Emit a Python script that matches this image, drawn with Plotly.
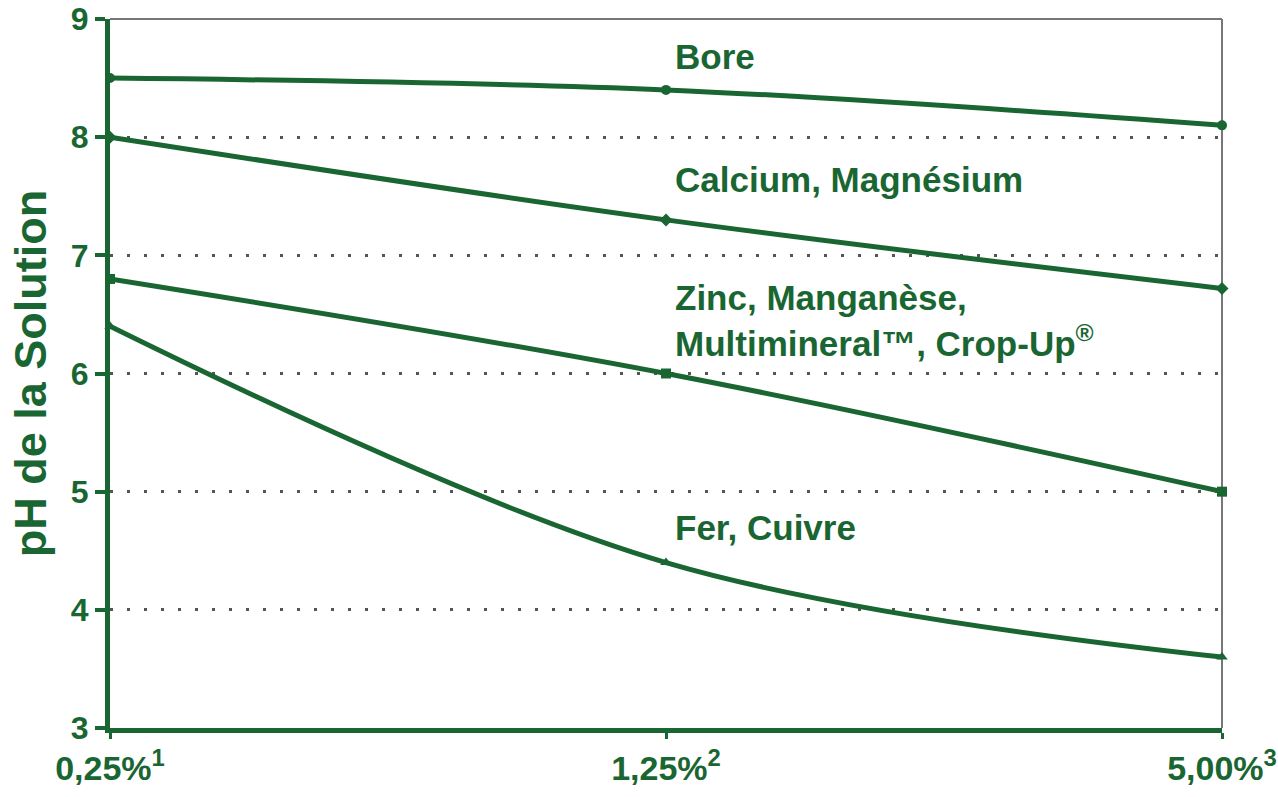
import plotly.graph_objects as go

categories = ["0,25%<sup>1</sup>", "1,25%<sup>2</sup>", "5,00%<sup>3</sup>"]
bore = [8.5, 8.4, 8.1]
calcium = [8.0, 7.3, 6.72]
zinc = [6.8, 6.0, 5.0]
fer = [6.4, 4.4, 3.6]

series_names = ["Bore", "Calcium, Magnésium",
                "Zinc, Manganèse,<br>Multimineral™, Crop-Up<sup>®</sup>", "Fer, Cuivre"]
label_y = [8.68, 7.64, 6.45, 4.70]
y_ticks = [3, 4, 5, 6, 7, 8, 9]

GREEN = "#1a6632"
FONT = "Liberation Sans, Arial, sans-serif"

x_idx = list(range(len(categories)))
fig = go.Figure()
symbols = ["circle", "diamond", "square", "triangle-up"]
for vals, sym, name in zip([bore, calcium, zinc, fer], symbols, series_names):
    fig.add_trace(go.Scatter(
        x=x_idx, y=vals, mode="lines+markers", name=name,
        line=dict(color=GREEN, width=5, shape="spline", smoothing=1),
        marker=dict(symbol=sym, size=10, color=GREEN),
        cliponaxis=False, showlegend=False,
    ))

for name, yv in zip(series_names, label_y):
    fig.add_annotation(
        x=1, y=yv, xref="x", yref="y", text=name, showarrow=False,
        xanchor="left", yanchor="middle", align="left", xshift=7,
        font=dict(family=FONT, size=35, color=GREEN, weight="bold"),
    )

# top and right frame (thin gray)
fig.add_shape(type="line", xref="x domain", yref="y domain", x0=0, x1=1, y0=1, y1=1,
              line=dict(color="#777777", width=2), layer="below")
fig.add_shape(type="line", xref="x domain", yref="y domain", x0=1, x1=1, y0=0, y1=1,
              line=dict(color="#777777", width=2), layer="below")

fig.update_layout(
    width=1278, height=797,
    margin=dict(l=110, r=56, t=19, b=69),
    paper_bgcolor="white", plot_bgcolor="white",
    font=dict(family=FONT, color=GREEN),
    xaxis=dict(
        range=[0, 2], tickmode="array", tickvals=x_idx, ticktext=categories,
        automargin=False, ticklabeloverflow="allow",
        showgrid=False, zeroline=False,
        showline=True, linecolor=GREEN, linewidth=5,
        ticks="outside", ticklen=6, tickwidth=3, tickcolor=GREEN,
        tickfont=dict(family=FONT, size=34, color=GREEN, weight="bold"),
    ),
    yaxis=dict(
        range=[3, 9], tickmode="array", tickvals=y_ticks,
        automargin=False, ticklabeloverflow="allow",
        showgrid=True, gridcolor="#555555", gridwidth=2.5, griddash="2.5px,14.5px",
        zeroline=False,
        showline=True, linecolor=GREEN, linewidth=5,
        ticks="outside", ticklen=10, tickwidth=4, tickcolor=GREEN,
        tickfont=dict(family=FONT, size=32, color=GREEN, weight="bold"),
        title=dict(text="pH de la Solution", standoff=12,
                   font=dict(family=FONT, size=45, color=GREEN, weight="bold")),
    ),
)

fig.write_html("out.html", config={"displayModeBar": False},
               post_script="document.body.style.margin='0';document.body.style.overflow='hidden';")
